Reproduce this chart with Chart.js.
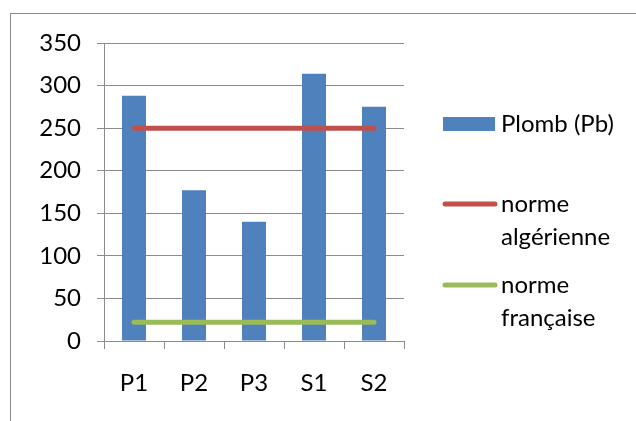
<!DOCTYPE html>
<html>
<head>
<meta charset="utf-8">
<script src="https://cdn.jsdelivr.net/npm/chart.js@4/dist/chart.umd.min.js"></script>
<style>
  html, body { margin: 0; padding: 0; background: #fff; overflow: hidden; }
  #frame { position: absolute; left: 10px; top: 13px; width: 700px; height: 500px; border: 1px solid #8c8c8c; }
  #wrap { position: absolute; left: 0; top: 0; width: 636px; height: 421px; }
</style>
</head>
<body>
<div id="frame"></div>
<div id="wrap"><canvas id="chart" width="636" height="421"></canvas></div>
<script>
// sites and measured lead values
const sites = ['P1', 'P2', 'P3', 'S1', 'S2'];
const plomb = [288, 177, 140, 314, 275];
const normeAlgerienne = [250, 250, 250, 250, 250];
const normeFrancaise = [22, 22, 22, 22, 22];
const yTicks = [0, 50, 100, 150, 200, 250, 300, 350];

const FONT = 'Lato, "Open Sans", sans-serif';
const FONT_SIZE = 24;

// legend drawn on the right, with wrapped labels like the original
const sideLegend = {
    id: 'sideLegend',
    afterDraw(chart) {
        const ctx = chart.ctx;
        const rows = [
            { y: 124, lines: ['Plomb (Pb)'] },
            { y: 204, lines: ['norme', 'algérienne'] },
            { y: 285, lines: ['norme', 'française'] }
        ];
        ctx.save();
        ctx.font = FONT_SIZE + 'px ' + FONT;
        ctx.textBaseline = 'middle';
        chart.data.datasets.forEach((ds, i) => {
            const row = rows[i];
            if (ds.type === 'line') {
                ctx.strokeStyle = ds.borderColor;
                ctx.lineWidth = 5;
                ctx.lineCap = 'round';
                ctx.beginPath();
                ctx.moveTo(445, row.y);
                ctx.lineTo(495, row.y);
                ctx.stroke();
            } else {
                ctx.fillStyle = ds.backgroundColor;
                ctx.fillRect(443, row.y - 7, 52, 14);
            }
            ctx.fillStyle = '#000';
            ds.label.split('\n').forEach((t, j) => {
                ctx.fillText(t, 501, row.y + j * 33);
            });
        });
        ctx.restore();
    }
};

new Chart(document.getElementById('chart'), {
    data: {
        labels: sites,
        datasets: [
            {
                type: 'bar',
                label: 'Plomb (Pb)',
                data: plomb,
                backgroundColor: '#4F81BD',
                barPercentage: 0.8,
                categoryPercentage: 0.5,
                order: 2
            },
            {
                type: 'line',
                label: 'norme\nalgérienne',
                data: normeAlgerienne,
                borderColor: '#C0504D',
                borderWidth: 5,
                borderCapStyle: 'round',
                pointRadius: 0,
                order: 1
            },
            {
                type: 'line',
                label: 'norme\nfrançaise',
                data: normeFrancaise,
                borderColor: '#9BBB59',
                borderWidth: 5,
                borderCapStyle: 'round',
                pointRadius: 0,
                order: 1
            }
        ]
    },
    options: {
        responsive: false,
        animation: false,
        layout: { padding: { top: 43, right: 232, left: 0, bottom: 0 } },
        plugins: {
            legend: { display: false },
            tooltip: { enabled: false }
        },
        scales: {
            x: {
                offset: true,
                grid: { offset: true, drawOnChartArea: false, color: '#8c8c8c', tickLength: 8 },
                border: { color: '#8c8c8c' },
                ticks: { font: { family: FONT, size: FONT_SIZE }, color: '#000', padding: 20 },
                afterFit(scale) { scale.height = 80; }
            },
            y: {
                min: 0,
                max: 350,
                afterBuildTicks(scale) { scale.ticks = yTicks.map(v => ({ value: v })); },
                grid: { color: '#8c8c8c', tickLength: 7 },
                border: { color: '#8c8c8c' },
                ticks: { font: { family: FONT, size: FONT_SIZE }, color: '#000', padding: 16 },
                afterFit(scale) { scale.width = 104; }
            }
        }
    },
    plugins: [sideLegend]
});
</script>
</body>
</html>
